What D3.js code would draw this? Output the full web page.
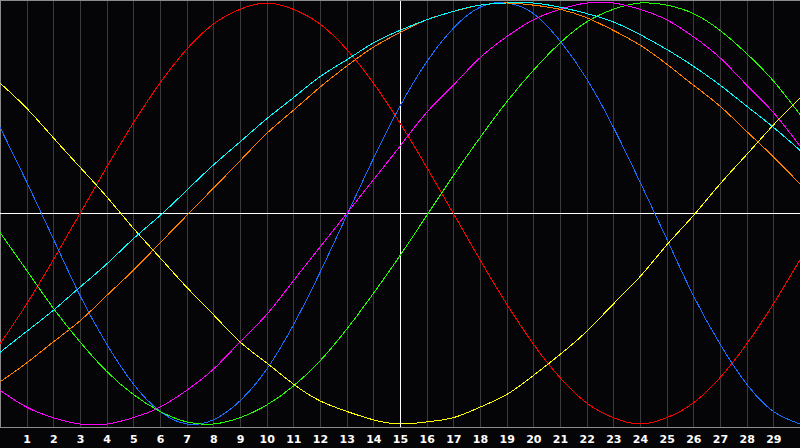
<!DOCTYPE html>
<html>
<head>
<meta charset="utf-8">
<script src="https://cdn.jsdelivr.net/npm/d3@7/dist/d3.min.js"></script>
<style>
  html, body { margin: 0; padding: 0; background: #050507; }
  svg { display: block; }
</style>
</head>
<body>
<svg id="chart" width="800" height="448"></svg>
<script>
// Day positions (0..30) of the sampled values
const days = d3.range(0, 31);
// Tick labels along the bottom
const tickLabels = d3.range(1, 30);
const todayDay = 15;

// Series values (percent, -100..100), one per day 0..30
const red =     [-62,-43,-22,0,22,43,62,78,90,97,100,97,90,78,62,43,22,0,-22,-43,-62,-78,-90,-97,-100,-97,-90,-78,-62,-43,-22];
const blue =    [41,15,-12,-39,-62,-81,-94,-100,-98,-89,-74,-53,-28,-1,26,51,72,88,98,100,95,82,64,41,15,-12,-39,-62,-81,-94,-100];
const green =   [-9,-27,-45,-61,-75,-86,-94,-99,-100,-97,-91,-82,-70,-55,-38,-20,-1,18,36,53,68,81,91,97,100,99,95,87,76,63,47];
const yellow =  [62,50,36,22,8,-7,-21,-35,-48,-61,-71,-81,-89,-94,-98,-100,-99,-97,-92,-86,-77,-67,-56,-43,-30,-15,-1,14,28,42,55];
const magenta = [-84,-92,-97,-100,-100,-97,-92,-84,-74,-61,-48,-32,-16,0,16,32,48,61,74,84,92,97,100,100,97,92,84,74,61,48,32];
const orange =  [-80,-71,-61,-51,-39,-27,-14,-1,12,25,38,49,60,70,79,86,92,96,99,100,99,97,93,87,80,71,61,51,39,27,14];
const cyan =    [-66,-56,-46,-35,-24,-12,-1,11,23,34,45,55,65,73,81,87,92,96,99,100,100,98,95,91,85,78,70,61,51,41,30];

const seriesList = [
  { name: "red", values: red, color: "#ff0000" },
  { name: "blue", values: blue, color: "#1a6eff" },
  { name: "green", values: green, color: "#22ff00" },
  { name: "yellow", values: yellow, color: "#ffff00" },
  { name: "magenta", values: magenta, color: "#ff00ff" },
  { name: "orange", values: orange, color: "#ff8000" },
  { name: "cyan", values: cyan, color: "#00ffff" }
];

const W = 800, H = 448;
const plotBottom = 427;

const svg = d3.select("#chart");
svg.append("rect").attr("width", W).attr("height", H).attr("fill", "#050507");

const x = d3.scaleLinear().domain([0, 30]).range([0, 800]);
const y = d3.scaleLinear().domain([-100, 100]).range([424, 3]);

// vertical grid lines
const grid = svg.append("g")
  .attr("transform", `translate(0,${plotBottom})`)
  .call(d3.axisBottom(x).tickValues(tickLabels).tickSize(-plotBottom).tickFormat(""));
grid.select(".domain").remove();
grid.selectAll(".tick line")
  .attr("stroke", d => d === todayDay ? "#ffffff" : "#3a3a3a")
  .attr("shape-rendering", "crispEdges");

// frame: top, left, bottom
svg.append("line").attr("x1", 0).attr("x2", W).attr("y1", 0.5).attr("y2", 0.5)
  .attr("stroke", "#8c8c8c").attr("shape-rendering", "crispEdges");
svg.append("line").attr("x1", 0.5).attr("x2", 0.5).attr("y1", 0).attr("y2", plotBottom)
  .attr("stroke", "#8c8c8c").attr("shape-rendering", "crispEdges");
svg.append("line").attr("x1", 0).attr("x2", W).attr("y1", plotBottom + 0.5).attr("y2", plotBottom + 0.5)
  .attr("stroke", "#8c8c8c").attr("shape-rendering", "crispEdges");

// horizontal zero line
svg.append("line").attr("x1", 0).attr("x2", W)
  .attr("y1", Math.floor(y(0)) + 0.5).attr("y2", Math.floor(y(0)) + 0.5)
  .attr("stroke", "#ffffff").attr("shape-rendering", "crispEdges");

// curves
const line = d3.line()
  .x((d, i) => x(days[i]))
  .y(d => y(d))
  .curve(d3.curveNatural);

svg.append("g").selectAll("path")
  .data(seriesList)
  .join("path")
  .attr("d", s => line(s.values))
  .attr("fill", "none")
  .attr("stroke", s => s.color)
  .attr("stroke-width", 1)
  .attr("shape-rendering", "crispEdges");

// day labels
const labels = svg.append("g")
  .attr("transform", `translate(0,${plotBottom})`)
  .call(d3.axisBottom(x).tickValues(tickLabels).tickSize(0).tickPadding(8).tickFormat(d3.format("d")));
labels.select(".domain").remove();
labels.selectAll("text")
  .attr("fill", "#ffffff")
  .attr("font-family", "DejaVu Sans, sans-serif")
  .attr("font-weight", "bold")
  .attr("font-size", "11px");
</script>
</body>
</html>
